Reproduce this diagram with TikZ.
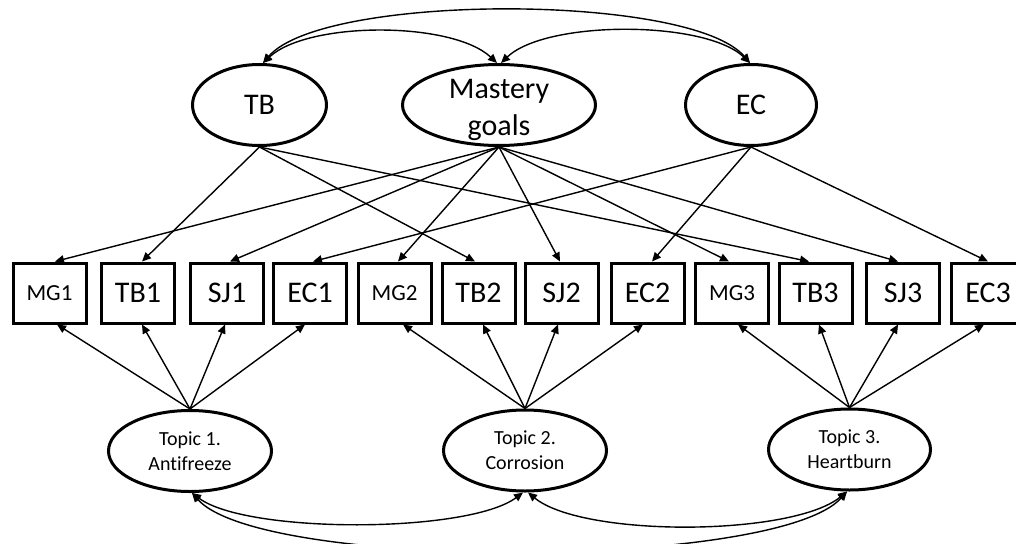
\documentclass[tikz,border=0pt]{standalone}
\usepackage{fontspec}
\setmainfont{Carlito}[Ligatures=NoCommon]
\usetikzlibrary{arrows.meta,shapes.geometric}
\begin{document}
\begin{tikzpicture}[x=1pt,y=-1pt,
  lat/.style={draw, ellipse, line width=3pt, inner sep=0pt, minimum height=81pt},
  biglabel/.style={font=\fontsize{30}{37}\selectfont, align=center},
  topiclabel/.style={font=\fontsize{20}{25}\selectfont, align=center},
  obs/.style={draw, rectangle, line width=3pt, minimum width=73pt, minimum height=60pt,
              inner sep=0pt, font=\fontsize{30}{36}\selectfont},
  mgobs/.style={obs, font=\fontsize{23}{28}\selectfont},
  load/.style={line width=1.4pt, -{Triangle[length=9pt,width=8pt]}},
  cov/.style={line width=1.4pt, {Triangle[length=9pt,width=8pt]}-{Triangle[length=9pt,width=8pt]}}
]
\useasboundingbox (0,0) rectangle (1016,543);
\fill[white] (0,0) rectangle (1016,543);

% latent factors (top row)
\node[lat, biglabel, minimum width=134pt] (TB) at (259.5,105) {TB};
\node[lat, minimum width=193pt] (MG) at (499,105) {};
\node[biglabel, inner sep=0pt] (MGtext) at (499,110) {Mastery\\goals};
\node[lat, biglabel, minimum width=131pt] (EC) at (751,105) {EC};

% indicators
\node[mgobs] (MG1) at (49.5,293)  {MG1};
\node[obs]   (TB1) at (138,293)   {TB1};
\node[obs]   (SJ1) at (227,293)   {SJ1};
\node[obs]   (EC1) at (310,293)   {EC1};
\node[mgobs] (MG2) at (394.5,293) {MG2};
\node[obs]   (TB2) at (478.5,293) {TB2};
\node[obs]   (SJ2) at (561.5,293) {SJ2};
\node[obs]   (EC2) at (647.5,293) {EC2};
\node[mgobs] (MG3) at (732,293)   {MG3};
\node[obs]   (TB3) at (815.5,293) {TB3};
\node[obs]   (SJ3) at (903,293)   {SJ3};
\node[obs]   (EC3) at (988,293)   {EC3};

% topic factors (bottom row)
\node[lat, topiclabel, minimum width=163pt] (T1) at (190,451)   {Topic 1.\\Antifreeze};
\node[lat, topiclabel, minimum width=163pt] (T2) at (525,450.5) {Topic 2.\\Corrosion};
\node[lat, topiclabel, minimum width=162pt] (T3) at (849.5,449.5) {Topic 3.\\Heartburn};

% loadings of the trait factors
\draw[load] (TB.south) -- ([xshift=4pt]TB1.north);
\draw[load] (TB.south) -- ([xshift=-3.5pt]TB2.north);
\draw[load] (TB.south) -- ([xshift=-6.5pt]TB3.north);
\draw[load] (MG.south) -- ([xshift=5.5pt]MG1.north);
\draw[load] (MG.south) -- ([xshift=3pt]SJ1.north);
\draw[load] (MG.south) -- ([xshift=3.5pt]MG2.north);
\draw[load] (MG.south) -- ([xshift=-1.5pt]SJ2.north);
\draw[load] (MG.south) -- ([xshift=-3pt]MG3.north);
\draw[load] (MG.south) -- ([xshift=-5pt]SJ3.north);
\draw[load] (EC.south) -- ([xshift=3pt]EC1.north);
\draw[load] (EC.south) -- ([xshift=4.5pt]EC2.north);
\draw[load] (EC.south) -- (EC3.north);

% loadings of the topic factors
\draw[load] (T1.north) -- ([xshift=7.5pt]MG1.south);
\draw[load] (T1.north) -- ([xshift=4pt]TB1.south);
\draw[load] (T1.north) -- ([xshift=-2pt]SJ1.south);
\draw[load] (T1.north) -- ([xshift=-5pt]EC1.south);
\draw[load] (T2.north) -- ([xshift=8.5pt]MG2.south);
\draw[load] (T2.north) -- ([xshift=4.5pt]TB2.south);
\draw[load] (T2.north) -- ([xshift=-3.5pt]SJ2.south);
\draw[load] (T2.north) -- ([xshift=-4.5pt]EC2.south);
\draw[load] (T3.north) -- ([xshift=6pt]MG3.south);
\draw[load] (T3.north) -- ([xshift=3.5pt]TB3.south);
\draw[load] (T3.north) -- ([xshift=-5pt]SJ3.south);
\draw[load] (T3.north) -- ([xshift=-4pt]EC3.south);

% correlations among trait factors
\draw[cov] ([xshift=3.5pt]TB.north) .. controls +(60,-70) and +(-60,-70) .. ([xshift=-1pt]EC.north);
\draw[cov] ([xshift=3.5pt]TB.north) .. controls +(45,-42) and +(-45,-42) .. ([xshift=-2pt]MG.north);
\draw[cov] ([xshift=2pt]MG.north) .. controls +(45,-43) and +(-45,-43) .. ([xshift=-1pt]EC.north);

% correlations among topic factors
\draw[cov] ([xshift=2pt]T1.south) .. controls +(55,41) and +(-55,41) .. ([xshift=-2pt]T2.south);
\draw[cov] ([xshift=3pt]T2.south) .. controls +(55,45) and +(-55,45) .. ([xshift=-2.5pt]T3.south);
\draw[cov] ([xshift=2pt]T1.south) .. controls +(70,78) and +(-70,78) .. ([xshift=-2.5pt]T3.south);
\end{tikzpicture}
\end{document}
